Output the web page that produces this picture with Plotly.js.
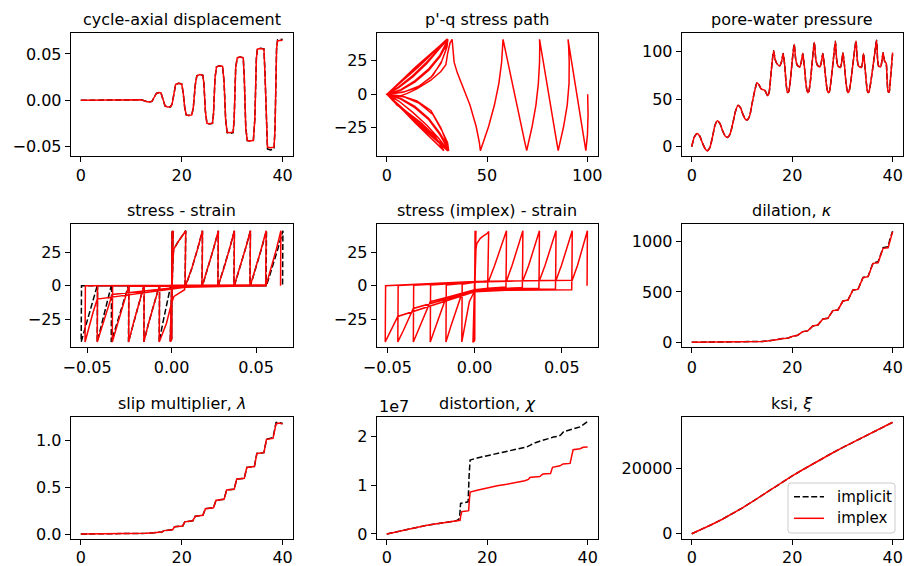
<!DOCTYPE html>
<html>
<head>
<meta charset="utf-8">
<script src="https://cdn.plot.ly/plotly-3.0.1.min.js"></script>
<style>
  html, body { margin: 0; padding: 0; background: #ffffff; }
  #chart { width: 904px; height: 566px; }
</style>
</head>
<body>
<div id="chart"></div>
<script>
// ---------------------------------------------------------------
// Cyclic undrained test: implicit vs implex integration results
// ---------------------------------------------------------------

// cycle-axial displacement vs time
const timeDisp = [
  0, 2, 4, 6, 8, 10, 11, 12, 13, 13.6, 14.1,
  14.6, 15.0, 15.5, 15.9, 16.3, 16.7, 17.2, 17.8,
  18.1, 18.5, 18.8, 19.4, 20.0, 20.3, 20.6, 20.9, 21.4, 22.0,
  22.3, 22.7, 23.0, 23.6, 24.2, 24.4, 24.7, 25.0, 25.5, 26.1,
  26.3, 26.6, 26.9, 27.5, 28.1, 28.4, 28.7, 29.0, 29.6, 30.2,
  30.4, 30.7, 31.0, 31.6, 32.2, 32.4, 32.7, 33.0, 33.6, 34.2,
  34.5, 34.8, 35.0, 35.6, 36.3, 36.5, 36.8, 37.0, 37.6, 38.3,
  38.5, 38.8, 39.0, 39.5, 40
];
const dispImplex = [
  0, 0, 0.0001, 0.0002, 0.0003, 0.0002, 0.0008, 0.0005, -0.0012, -0.0018, -0.0012,
  0.003, 0.0076, 0.0084, 0.0079, 0.001, -0.006, -0.0073, -0.0069,
  -0.004, 0.010, 0.0172, 0.0183, 0.0176, 0.008, -0.008, -0.0158, -0.0164, -0.0158,
  -0.008, 0.017, 0.0265, 0.0277, 0.0270, 0.018, -0.012, -0.0248, -0.0254, -0.0247,
  -0.015, 0.024, 0.0362, 0.0372, 0.0365, 0.020, -0.020, -0.0345, -0.0351, -0.0342,
  -0.020, 0.035, 0.0458, 0.0467, 0.0458, 0.025, -0.030, -0.0434, -0.0440, -0.0432,
  -0.020, 0.045, 0.0552, 0.0560, 0.0553, 0.030, -0.035, -0.0505, -0.0512, -0.0506,
  -0.030, 0.055, 0.0642, 0.0648, 0.0647
];
const dispImplicit = [
  0, 0, 0.0001, 0.0002, 0.0003, 0.0002, 0.0008, 0.0005, -0.0012, -0.0018, -0.0012,
  0.003, 0.0076, 0.0084, 0.0079, 0.001, -0.006, -0.0073, -0.0069,
  -0.004, 0.010, 0.0172, 0.0183, 0.0176, 0.008, -0.008, -0.0158, -0.0164, -0.0158,
  -0.008, 0.017, 0.0265, 0.0277, 0.0270, 0.018, -0.012, -0.0248, -0.0255, -0.0248,
  -0.015, 0.024, 0.0362, 0.0372, 0.0365, 0.020, -0.020, -0.0350, -0.0357, -0.0348,
  -0.020, 0.035, 0.0458, 0.0467, 0.0458, 0.025, -0.030, -0.0434, -0.0440, -0.0432,
  -0.020, 0.045, 0.0554, 0.0562, 0.0555, 0.030, -0.036, -0.0525, -0.0535, -0.0528,
  -0.030, 0.055, 0.0652, 0.0659, 0.0658
];

// p'-q stress path (mean effective stress, deviatoric stress)
const stressPathP = [
  100.2, 100.4, 100.1, 99.3,
  98.66, 97.4, 95.7, 93.9, 92.2, 90.9, 90.4,
  90.7, 91.0, 90.9, 90.0, 88.2, 86.5, 85.5,
  84.8, 83.5, 81.7, 79.9, 78.1, 76.8, 76.2,
  76.3, 76.2, 75.6, 74.4, 72.5, 70.8, 69.8,
  68.9, 67.2, 64.9, 62.7, 60.4, 58.7, 58,
  57.8, 57.3, 55.9, 53.7, 50.8, 48.0, 46.7,
  46.2, 44.6, 41.5, 37.5, 35.2, 33.6, 33.3, 33.0, 32.6,
  31.5, 30.3, 29.5, 27, 22, 15, 10, 6, 3,
  5, 10, 17, 24, 28.5,
  14, 3, 0.5,
  8, 15, 22, 27, 29.5, 30,
  15, 4, 0.3,
  8, 15, 22, 27, 29.6, 30.3,
  15.5, 4, 0.2,
  7, 14, 21, 26.5, 29.5, 30.2,
  14.5, 3, 0.2,
  7, 14, 21, 26.5, 29.8, 30.5,
  15, 3, 0.1,
  6, 13, 20, 26, 30.3,
  15.5, 3.5, 0.1,
  6, 13, 20, 26, 30.7,
  14.5, 3, 0.1,
  9, 16, 23, 27.5, 30, 30.5,
  15, 3, 0.1,
  9, 16, 23, 27.5, 30.3, 30.9,
  15.5, 3.5, 0.1,
  7, 14, 21, 26.5, 30.6,
  15, 3, 0.1,
  7, 14, 21, 26.5, 31,
  15, 3, 0.1,
  6, 13, 20, 26, 30.6,
  20, 10, 0.5
];
const stressPathQ = [
  0, -15, -30, -42,
  -36, -24, -8, 8, 24, 36, 41,
  36, 24, 8, -8, -24, -36, -42,
  -36, -24, -8, 8, 24, 36, 41,
  36, 24, 8, -8, -24, -36, -42,
  -36, -24, -8, 8, 24, 36, 41,
  36, 24, 8, -8, -24, -36, -42,
  -36, -24, -8, 8, 16, 24, 32, 38, 41,
  38, 30, 22, 17, 10.5, 4, 0.5, -1.5, -4,
  -8, -13, -21, -31, -42,
  -21, -4.5, 0,
  1.5, 5, 12.5, 23, 33, 41,
  20.5, 5.5, 0,
  -1.5, -5, -12, -25, -35, -42,
  -21, -5.5, 0,
  3, 9, 18, 28, 36, 41,
  20.5, 4, 0,
  -3, -9, -18, -29, -37, -42,
  -21.5, -4, 0,
  5, 13, 23, 33, 41,
  20, 4, 0,
  -5, -13.5, -23, -33, -42,
  -21, -4.5, 0,
  2, 6, 14, 25, 35, 41,
  21, 4.5, 0,
  -2, -6.5, -15, -27, -36, -42,
  -20.5, -4, 0,
  3.5, 10, 19, 29, 41,
  20.5, 4, 0,
  -3.5, -10, -19, -30, -42,
  -20.5, -4, 0,
  5.5, 14, 24, 34, 41,
  27, 13, 0.5
];

// pore-water pressure vs time
const timePore = [
  0, 0.5, 1.1, 1.6, 2.2, 2.7, 3.1, 3.6, 4.2, 4.6, 5.1, 5.6, 6.2, 6.7, 7.1, 7.6, 8.2, 8.7, 9.2, 9.7,
  10.2, 10.6, 11.0, 11.5, 12.0, 12.5, 13.0, 13.4, 13.8, 14.2, 14.6, 15.1,
  15.4, 15.8, 16.3, 16.6, 16.9, 17.5, 17.9, 18.2, 18.5, 18.8, 19.0, 19.1,
  19.3, 19.6, 20.0, 20.4, 20.7, 21.0, 21.5, 21.8, 22.1, 22.4, 22.7, 22.95, 23.1,
  23.3, 23.6, 24.0, 24.4, 24.7, 25.0, 25.5, 25.8, 26.1, 26.4, 26.75, 27.0, 27.2,
  27.4, 27.7, 28.2, 28.6, 28.85, 29.1, 29.6, 29.85, 30.1, 30.4, 30.7, 30.95, 31.1,
  31.3, 31.7, 32.2, 32.7, 32.95, 33.2, 33.8, 34.0, 34.2, 34.45, 34.75, 34.95, 35.1,
  35.3, 35.7, 36.3, 36.8, 37.0, 37.2, 37.6, 37.85, 38.1, 38.4, 38.7, 38.9, 39.1, 39.3, 39.6, 40
];
const porePressure = [
  0, 10, 14, 11, 3, -2.5, -4.2, -1, 12, 22, 27.4, 24.5, 16, 11, 9.8, 13, 25, 37, 43.5, 41,
  34, 29.5, 28, 32, 45, 58, 67.4, 65, 61, 60, 59, 53.7,
  57, 78, 101, 92, 88, 85, 90, 98, 86, 66, 58, 57,
  58, 68, 90, 108, 92, 86, 84, 89, 98, 86, 68, 59, 57,
  58, 68, 90, 110, 92, 86, 84, 89, 98, 86, 68, 59, 57,
  58, 68, 92, 111, 92, 85, 83.5, 89, 99, 86, 68, 59, 57,
  58, 70, 92, 111.5, 92, 85, 83.5, 89, 98, 86, 68, 59, 57,
  58, 70, 93, 112, 92, 85, 84, 90, 99, 90, 88, 70, 58, 57.5, 74, 99
];

// stress - strain (corrected stress)
const strainImplex = [
  0, 0.0001, 0.0003, -0.0001, 0.0005, -0.0002, 0.0009, -0.0008,
  -0.0004, 0.0003, 0.0008, 0.0012, 0.004, 0.0084,
  0.0083, 0.0080,
  0.0077, 0.0014, -0.0002, -0.003, -0.0073,
  -0.0072, -0.0071,
  0.0084, 0.012, 0.0153, 0.0183,
  0.0182, 0.0180,
  -0.0073, -0.0105, -0.0136, -0.0164,
  -0.0163, -0.0162,
  0.0183, 0.0215, 0.0247, 0.0277,
  0.0276, 0.0274,
  -0.0164, -0.0195, -0.0226, -0.0254,
  -0.0253, -0.0252,
  0.0277, 0.0310, 0.0342, 0.0372,
  0.0371, 0.0369,
  -0.0254, -0.0287, -0.0320, -0.0351,
  -0.0350, -0.0349,
  0.0372, 0.0404, 0.0436, 0.0467,
  0.0466, 0.0464,
  0.008, -0.0351, -0.038, -0.041, -0.0440,
  -0.0439, -0.0438,
  0.0467, 0.0498, 0.0530, 0.0560,
  0.0559, 0.0557,
  0.008, 0, -0.044, -0.0465, -0.049, -0.0512,
  -0.0511, -0.0510,
  0.0560, 0.0590, 0.0620, 0.0647,
  0.0646, 0.0645
];
const stressImplex = [
  0, -40, 40.5, -41, 41, -41.5, 41, -42,
  -20, 0, 18, 27, 33, 41,
  20, 1,
  -3, -8, -14, -28, -42,
  -20, 0,
  0.5, 13, 27, 41,
  20, 0,
  -0.5, -14, -28, -42,
  -20, 0,
  0.5, 13, 27, 41,
  20, 0,
  -0.5, -14, -28, -42,
  -20, 0,
  0.5, 13, 27, 41,
  20, 0,
  -0.5, -14, -28, -42,
  -20, 0,
  0.5, 13, 27, 41,
  20, 0,
  -0.7, -6.5, -18, -30, -42,
  -20, 0,
  0.5, 13, 27, 41,
  20, 0,
  -1.2, -2.5, -10, -20, -31, -42,
  -20, 0,
  0.5, 13, 27, 41,
  20, 0
];
const strainImplicit = [
  0, 0.0001, 0.0003, -0.0001, 0.0005, -0.0002, 0.0009, -0.0008,
  -0.0004, 0.0003, 0.0008, 0.0012, 0.004, 0.0084,
  0.0083, 0.0080,
  -0.0006, -0.003, -0.0052, -0.0073,
  -0.0072, -0.0071,
  0.0084, 0.012, 0.0153, 0.0183,
  0.0182, 0.0180,
  -0.0073, -0.0105, -0.0136, -0.0164,
  -0.0163, -0.0162,
  0.0183, 0.0215, 0.0247, 0.0277,
  0.0276, 0.0274,
  -0.0164, -0.0195, -0.0226, -0.0255,
  -0.0254, -0.0253,
  0.0277, 0.0310, 0.0342, 0.0372,
  0.0371, 0.0369,
  -0.0255, -0.0290, -0.0325, -0.0357,
  -0.0356, -0.0355,
  0.0372, 0.0404, 0.0436, 0.0467,
  0.0466, 0.0464,
  -0.0357, -0.0385, -0.0413, -0.0440,
  -0.0439, -0.0438,
  0.0467, 0.0499, 0.0531, 0.0562,
  0.0561, 0.0559,
  -0.0440, -0.0472, -0.0504, -0.0535,
  -0.0534, -0.0533,
  0.0562, 0.0595, 0.0628, 0.0659,
  0.0658, 0.0657
];
const stressImplicit = [
  0, -40, 40.5, -41, 41, -41.5, 41, -42,
  -20, 0, 18, 27, 33, 41,
  20, 0,
  -0.5, -14, -28, -42,
  -20, 0,
  0, 13, 27, 41,
  20, 0,
  0, -14, -28, -42,
  -20, 0,
  0, 13, 27, 41,
  20, 0,
  0, -14, -28, -42,
  -20, 0,
  0, 13, 27, 41,
  20, 0,
  0, -14, -28, -42,
  -20, 0,
  0, 13, 27, 41,
  20, 0,
  0, -14, -28, -42,
  -20, 0,
  0, 13, 27, 41,
  20, 0,
  0, -14, -28, -42,
  -20, 0,
  0, 13, 27, 41,
  20, 0
];

// stress (implex extrapolated) - strain
const strainImplexPred = [
  0, 0.0001, 0.0003, -0.0001, 0.0005, -0.0003, 0.0008, -0.0009,
  -0.0005, 0.0001, 0.0005, 0.0008, 0.0013, 0.0033, 0.0055, 0.0071, 0.0081,
  0.0080, 0.0078,
  0.0075, 0.003, 0, -0.003, -0.005, -0.0073,
  -0.0072, -0.0071,
  0, 0.0081, 0.0115, 0.015, 0.0183,
  0.0182, 0.0180,
  0.008, 0, -0.0073, -0.0105, -0.0135, -0.0164,
  -0.0163, -0.0162,
  0, 0.0183, 0.0215, 0.0247, 0.0277,
  0.0276, 0.0274,
  0.010, 0, -0.0164, -0.0195, -0.0225, -0.0254,
  -0.0253, -0.0252,
  0, 0.0277, 0.0310, 0.0342, 0.0372,
  0.0371, 0.0369,
  0.012, 0, -0.0254, -0.0285, -0.0318, -0.0351,
  -0.0350, -0.0349,
  0, 0.0372, 0.0404, 0.0436, 0.0467,
  0.0466, 0.0464,
  0.015, 0, -0.0351, -0.038, -0.041, -0.0440,
  -0.0439, -0.0438,
  0, 0.0467, 0.0498, 0.053, 0.0560,
  0.0559, 0.0557,
  0.018, 0, -0.044, -0.0465, -0.049, -0.0512,
  -0.0511, -0.0510,
  0, 0.0560, 0.059, 0.062, 0.0647,
  0.0646, 0.0645
];
const stressImplexPred = [
  0, -41, 41, -41.5, 41, -42, 41, -42.5,
  -20, 0, 20, 27, 31.5, 35.3, 37.5, 38.8, 40.5,
  20, 2,
  -2, -3, -4, -12, -25, -42,
  -20, 1,
  2.5, 3.5, 15, 28, 41,
  20, -1,
  -2, -3, -6, -18, -30, -42,
  -20, 0.5,
  2.5, 3.5, 15, 28, 41,
  20, -1.5,
  -2.5, -3, -9, -20, -31, -42,
  -20, 0.5,
  2.8, 3.6, 15, 28, 41,
  20, -2,
  -2.5, -3.5, -12, -22, -32, -42,
  -20, 0.3,
  3, 3.8, 15, 28, 41,
  20, -2.5,
  -3, -4, -17, -26, -34, -42,
  -20, 0.2,
  3.2, 4, 15, 28, 41,
  20, -3,
  -3.5, -4.5, -23, -30, -36, -42,
  -20, 0,
  3.2, 4, 15, 28, 41,
  20, 0
];

// dilation kappa vs time
const timeKappa = [
  0, 5, 10, 14, 15, 16, 16.5, 17.1, 17.6, 18.1, 19.1, 19.6, 20.1, 21.1, 21.6,
  22.1, 23.1, 23.6, 24.1, 25.1, 25.6, 26.1, 27.1, 27.6, 28.1, 29.1, 29.6, 30.1,
  31.1, 31.6, 32.1, 33.1, 33.6, 34.1, 35.1, 35.6, 36.1, 37.1, 37.6, 38.1, 39.1, 39.5, 40
];
const kappaImplex = [
  0, 1, 3, 8, 12, 16, 22, 28, 34, 38, 41, 50, 60, 70, 88,
  106, 113, 140, 162, 172, 205, 232, 238, 278, 315, 321, 368, 410,
  420, 470, 520, 526, 585, 642, 652, 720, 785, 791, 865, 934, 940, 1010, 1100
];
const kappaImplicit = [
  0, 1, 3, 8, 12, 16, 22, 28, 34, 38, 41, 50, 60, 70, 88,
  106, 113, 140, 162, 172, 205, 232, 238, 278, 315, 321, 368, 410,
  420, 470, 520, 526, 588, 645, 655, 728, 790, 800, 880, 940, 950, 1035, 1105
];

// slip multiplier lambda vs time
const timeLambda = [
  0, 8, 11, 13, 14.5, 15.5, 16.1, 16.5, 18.2, 18.6, 20.2, 20.6, 22.2, 22.7, 24.2, 24.7,
  26.3, 26.8, 28.4, 28.9, 30.4, 30.9, 32.4, 32.9, 34.4, 34.9, 36.3, 36.8, 38.1, 38.7, 39.3, 40
];
const lambdaImplex = [
  0, 0.001, 0.003, 0.007, 0.013, 0.018, 0.022, 0.036, 0.045, 0.078, 0.086, 0.13, 0.142, 0.19, 0.20, 0.27,
  0.28, 0.36, 0.37, 0.47, 0.477, 0.587, 0.594, 0.71, 0.72, 0.86, 0.868, 1.01, 1.02, 1.175, 1.185, 1.175
];
const lambdaImplicit = [
  0, 0.001, 0.003, 0.007, 0.013, 0.018, 0.022, 0.036, 0.045, 0.078, 0.086, 0.13, 0.142, 0.19, 0.20, 0.27,
  0.28, 0.36, 0.37, 0.47, 0.477, 0.587, 0.594, 0.71, 0.72, 0.86, 0.868, 1.01, 1.03, 1.19, 1.19, 1.18
];

// distortion chi vs time
const timeChiImplex = [
  0, 4, 8, 11.3, 14.3, 14.6, 14.75, 14.95, 15.9, 16.3, 16.45, 16.6, 18, 19.9, 22,
  23.9, 25, 26.6, 27.5, 28.2, 28.5, 28.8, 30.5, 30.8, 31.1, 32.6, 32.8, 33.0,
  34.5, 34.8, 35.1, 36.5, 36.8, 37.1, 38.5, 38.8, 39.1, 40
];
const chiImplex = [
  0, 0.096e7, 0.18e7, 0.23e7, 0.27e7, 0.28e7, 0.38e7, 0.46e7, 0.47e7, 0.48e7, 0.70e7, 0.86e7, 0.90e7, 0.95e7, 0.99e7,
  1.02e7, 1.04e7, 1.075e7, 1.095e7, 1.12e7, 1.16e7, 1.165e7, 1.18e7, 1.21e7, 1.23e7, 1.24e7, 1.30e7, 1.37e7,
  1.40e7, 1.42e7, 1.44e7, 1.45e7, 1.60e7, 1.73e7, 1.75e7, 1.77e7, 1.78e7, 1.785e7
];
const timeChiImplicit = [
  0, 4, 8, 11.3, 13.8, 14.3, 14.5, 14.7, 15.9, 16.2, 16.4, 16.6, 18, 20.6, 22,
  23.9, 25.2, 26.5, 27.9, 28.5, 29.2, 30.3, 31.2, 32.2, 33.2, 34.2, 34.6, 35.2,
  36.2, 37.2, 38.5, 39.2, 40
];
const chiImplicit = [
  0, 0.096e7, 0.18e7, 0.23e7, 0.27e7, 0.30e7, 0.33e7, 0.63e7, 0.65e7, 0.66e7, 1.2e7, 1.52e7, 1.56e7, 1.62e7, 1.65e7,
  1.69e7, 1.73e7, 1.75e7, 1.79e7, 1.82e7, 1.86e7, 1.90e7, 1.93e7, 1.96e7, 1.99e7, 2.01e7, 2.03e7, 2.10e7,
  2.13e7, 2.17e7, 2.20e7, 2.25e7, 2.31e7
];

// ksi vs time
const timeKsi = [0, 2, 4, 6, 8, 10, 12, 14, 16, 18, 20, 22, 24, 26, 28, 30, 32, 34, 36, 38, 40];
const ksiValues = [0, 1350, 2800, 4350, 6000, 7800, 9750, 11750, 13750, 15720, 17650, 19480,
                   21250, 22980, 24680, 26300, 27880, 29450, 31000, 32540, 34070];

// titles and tick labels
const panelTitles = [
  "cycle-axial displacement", "p'-q stress path", "pore-water pressure",
  "stress - strain", "stress (implex) - strain", "dilation, <i>κ</i>",
  "slip multiplier, <i>λ</i>", "distortion, <i>χ</i>", "ksi, <i>ξ</i>"
];
const timeTicks = [0, 20, 40];
const timeTickText = ['0', '20', '40'];
const pTicks = [0, 50, 100];
const pTickText = ['0', '50', '100'];
const strainTicks = [-0.05, 0, 0.05];
const strainTickText = ['\u22120.05', '0.00', '0.05'];
const dispTicks = [-0.05, 0, 0.05];
const dispTickText = ['\u22120.05', '0.00', '0.05'];
const stressTicks = [-25, 0, 25];
const stressTickText = ['\u221225', '0', '25'];
const poreTicks = [0, 50, 100];
const poreTickText = ['0', '50', '100'];
const kappaTicks = [0, 500, 1000];
const kappaTickText = ['0', '500', '1000'];
const lambdaTicks = [0, 0.5, 1.0];
const lambdaTickText = ['0.0', '0.5', '1.0'];
const chiTicks = [0, 1e7, 2e7];
const chiTickText = ['0', '1', '2'];
const ksiTicks = [0, 20000];
const ksiTickText = ['0', '20000'];
const legendLabels = ['implicit', 'implex'];

// ---------------------------------------------------------------
// layout helpers (pixel geometry of the 3x3 grid)
// ---------------------------------------------------------------
const W = 904, H = 566;
const FONT = 'DejaVu Sans, sans-serif';
const colPx = [[70.7, 292.7], [376.7, 597.7], [681.7, 902.7]];
const rowPx = [[33.3, 156], [224.3, 347.3], [416.7, 539.3]];
const xDom = c => [colPx[c][0] / W, colPx[c][1] / W];
const yDom = r => [1 - rowPx[r][1] / H, 1 - rowPx[r][0] / H];

const implicitStyle = { color: '#000000', width: 1.5, dash: '6px,2.6px' };
const implexStyle = { color: '#ff0000', width: 1.5 };

function series(x, y, n, style, smooth) {
  const s = n === 1 ? '' : String(n);
  const ln = Object.assign({}, style);
  if (smooth) { ln.shape = 'spline'; ln.smoothing = 0.6; }
  return {
    type: 'scatter', mode: 'lines', x: x, y: y,
    xaxis: 'x' + s, yaxis: 'y' + s,
    line: ln, hoverinfo: 'skip', showlegend: false
  };
}

function axis(n, dom, range, vals, text, isX, bottomRow) {
  const s = n === 1 ? '' : String(n);
  const ax = {
    domain: dom, range: range, anchor: (isX ? 'y' : 'x') + s,
    tickmode: 'array', tickvals: vals, ticktext: text,
    showline: true, mirror: true, linecolor: '#000', linewidth: 1,
    ticks: 'outside', ticklen: 5, tickwidth: 1, tickcolor: '#000',
    showgrid: false, zeroline: false, fixedrange: true,
    tickfont: { family: FONT, size: 16, color: '#000' }
  };
  if (bottomRow) ax.ticklabelstandoff = -2;
  return ax;
}

const data = [
  series(timeDisp, dispImplicit, 1, implicitStyle),
  series(timeDisp, dispImplex, 1, implexStyle),
  series(stressPathP, stressPathQ, 2, implexStyle),
  series(timePore, porePressure, 3, implicitStyle, true),
  series(timePore, porePressure, 3, implexStyle, true),
  series(strainImplicit, stressImplicit, 4, implicitStyle),
  series(strainImplex, stressImplex, 4, implexStyle),
  series(strainImplexPred, stressImplexPred, 5, implexStyle),
  series(timeKappa, kappaImplicit, 6, implicitStyle),
  series(timeKappa, kappaImplex, 6, implexStyle),
  series(timeLambda, lambdaImplicit, 7, implicitStyle),
  series(timeLambda, lambdaImplex, 7, implexStyle),
  series(timeChiImplicit, chiImplicit, 8, implicitStyle),
  series(timeChiImplex, chiImplex, 8, implexStyle),
  series(timeKsi, ksiValues, 9, implicitStyle),
  series(timeKsi, ksiValues, 9, implexStyle)
];

const layout = {
  width: W, height: H,
  margin: { l: 0, r: 0, t: 0, b: 0, pad: 0 },
  paper_bgcolor: '#ffffff', plot_bgcolor: '#ffffff',
  showlegend: false,
  font: { family: FONT, size: 16, color: '#000' },
  xaxis:  axis(1, xDom(0), [-2, 42], timeTicks, timeTickText, true),
  yaxis:  axis(1, yDom(0), [-0.0601, 0.0723], dispTicks, dispTickText, false),
  xaxis2: axis(2, xDom(1), [-5, 105.2], pTicks, pTickText, true),
  yaxis2: axis(2, yDom(0), [-46, 45.5], stressTicks, stressTickText, false),
  xaxis3: axis(3, xDom(2), [-2, 42], timeTicks, timeTickText, true),
  yaxis3: axis(3, yDom(0), [-9.8, 119.4], poreTicks, poreTickText, false),
  xaxis4: axis(4, xDom(0), [-0.0597, 0.0717], strainTicks, strainTickText, true),
  yaxis4: axis(4, yDom(1), [-46, 45.8], stressTicks, stressTickText, false),
  xaxis5: axis(5, xDom(1), [-0.0561, 0.0706], strainTicks, strainTickText, true),
  yaxis5: axis(5, yDom(1), [-46, 45.8], stressTicks, stressTickText, false),
  xaxis6: axis(6, xDom(2), [-2, 42], timeTicks, timeTickText, true),
  yaxis6: axis(6, yDom(1), [-50, 1173], kappaTicks, kappaTickText, false),
  xaxis7: axis(7, xDom(0), [-2, 42], timeTicks, timeTickText, true, true),
  yaxis7: axis(7, yDom(2), [-0.0566, 1.252], lambdaTicks, lambdaTickText, false),
  xaxis8: axis(8, xDom(1), [-2, 42], timeTicks, timeTickText, true, true),
  yaxis8: axis(8, yDom(2), [-1.09e6, 2.409e7], chiTicks, chiTickText, false),
  xaxis9: axis(9, xDom(2), [-2, 42], timeTicks, timeTickText, true, true),
  yaxis9: axis(9, yDom(2), [-1713, 35780], ksiTicks, ksiTickText, false),
  annotations: [],
  shapes: []
};

// subplot titles
panelTitles.forEach((t, i) => {
  const c = i % 3, r = Math.floor(i / 3);
  const xd = xDom(c), yd = yDom(r);
  layout.annotations.push({
    text: t, xref: 'paper', yref: 'paper',
    x: (xd[0] + xd[1]) / 2, y: yd[1], xanchor: 'center', yanchor: 'bottom',
    yshift: 2, showarrow: false,
    font: { family: FONT, size: 16, color: '#000' }
  });
});

// scale multiplier of the distortion axis
layout.annotations.push({
  text: '1e7', xref: 'paper', yref: 'paper',
  x: xDom(1)[0], y: yDom(2)[1], xanchor: 'left', yanchor: 'bottom',
  yshift: -1, showarrow: false,
  font: { family: FONT, size: 16, color: '#000' }
});

// legend box in the ksi panel (rounded frame, line samples, labels)
const lx0 = 788 / W, lx1 = 895 / W, ly0 = 1 - 533 / H, ly1 = 1 - 483 / H;
const rx = 3 / W, ry = 3 / H;
layout.shapes.push({
  type: 'path', xref: 'paper', yref: 'paper', layer: 'above',
  path: `M${lx0 + rx},${ly1} L${lx1 - rx},${ly1} Q${lx1},${ly1} ${lx1},${ly1 - ry} ` +
        `L${lx1},${ly0 + ry} Q${lx1},${ly0} ${lx1 - rx},${ly0} L${lx0 + rx},${ly0} ` +
        `Q${lx0},${ly0} ${lx0},${ly0 + ry} L${lx0},${ly1 - ry} Q${lx0},${ly1} ${lx0 + rx},${ly1} Z`,
  fillcolor: 'rgba(255,255,255,0.8)', line: { color: '#cccccc', width: 1 }
});
const legendRows = [496.7, 518.3];
const legendStyles = [implicitStyle, implexStyle];
legendRows.forEach((py, i) => {
  const yy = 1 - py / H;
  layout.shapes.push({
    type: 'line', xref: 'paper', yref: 'paper', layer: 'above',
    x0: 794 / W, x1: 824 / W, y0: yy, y1: yy,
    line: legendStyles[i]
  });
  layout.annotations.push({
    text: legendLabels[i], xref: 'paper', yref: 'paper',
    x: 835 / W, y: yy, xanchor: 'left', yanchor: 'middle', showarrow: false,
    font: { family: FONT, size: 15, color: '#000' }
  });
});

Plotly.newPlot('chart', data, layout, { staticPlot: true, displayModeBar: false });
</script>
</body>
</html>
